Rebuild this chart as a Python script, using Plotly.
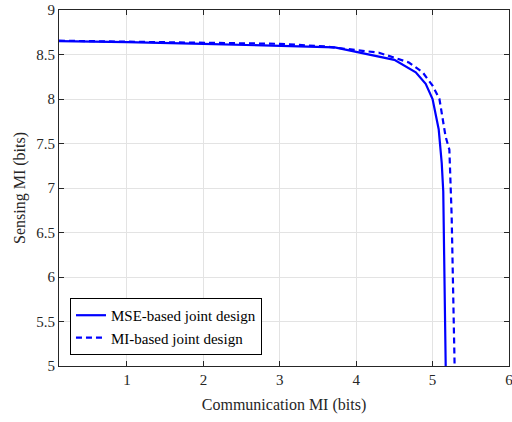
import plotly.graph_objects as go

# Rate region: communication MI vs sensing MI for the two joint designs
mse_comm = [0.11, 1.0, 2.0, 3.0, 3.72, 4.50, 4.78, 4.91, 5.00, 5.08, 5.12, 5.14, 5.155, 5.17, 5.18]
mse_sens = [8.65, 8.64, 8.62, 8.60, 8.58, 8.44, 8.30, 8.17, 8.00, 7.66, 7.28, 6.96, 6.00, 5.00, 4.50]

mi_comm = [0.11, 1.0, 2.0, 3.0, 3.6, 4.02, 4.30, 4.69, 4.87, 5.00, 5.09, 5.17, 5.22, 5.25, 5.27, 5.29, 5.30]
mi_sens = [8.655, 8.645, 8.635, 8.62, 8.59, 8.55, 8.52, 8.41, 8.30, 8.15, 8.00, 7.58, 7.43, 6.68, 5.93, 5.03, 4.50]

x_ticks = [1, 2, 3, 4, 5, 6]
y_ticks = [5, 5.5, 6, 6.5, 7, 7.5, 8, 8.5, 9]

font_family = "Liberation Serif"
blue = "#0000FF"
ink = "#262626"

fig = go.Figure()
fig.add_trace(go.Scatter(
    x=mse_comm, y=mse_sens, mode="lines", name="MSE-based joint design",
    line=dict(color=blue, width=2.2),
))
fig.add_trace(go.Scatter(
    x=mi_comm, y=mi_sens, mode="lines", name="MI-based joint design",
    line=dict(color=blue, width=2.2, dash="6px,4px"),
))

axis_common = dict(
    showline=True, linecolor=ink, linewidth=1.2, mirror="ticks",
    ticks="inside", ticklen=5, tickcolor=ink,
    showgrid=True, gridcolor="#E3E3E3", gridwidth=1, zeroline=False,
    tickfont=dict(family=font_family, size=15, color=ink),
    ticklabeloverflow="allow", automargin=False,
)

fig.update_xaxes(
    range=[0.11, 6.0005], tickvals=x_ticks, ticktext=[str(v) for v in x_ticks],
    title=dict(text="Communication MI (bits)", font=dict(family=font_family, size=16, color=ink), standoff=11),
    **axis_common,
)
fig.update_yaxes(
    range=[5, 9], tickvals=y_ticks, ticktext=[f"{v:g}" for v in y_ticks],
    title=dict(text="Sensing MI (bits)", font=dict(family=font_family, size=16, color=ink), standoff=6),
    **axis_common,
)

fig.update_layout(
    width=512, height=422,
    margin=dict(l=59, r=3, t=10, b=56),
    plot_bgcolor="white", paper_bgcolor="white",
    font=dict(family=font_family, size=15, color="#000000"),
    legend=dict(
        x=0.0244, y=0.031, xanchor="left", yanchor="bottom",
        bgcolor="white", bordercolor="#000000", borderwidth=1,
        font=dict(family=font_family, size=15, color="#000000"),
        tracegroupgap=0, itemwidth=30,
    ),
)

fig.write_html("out.html")
